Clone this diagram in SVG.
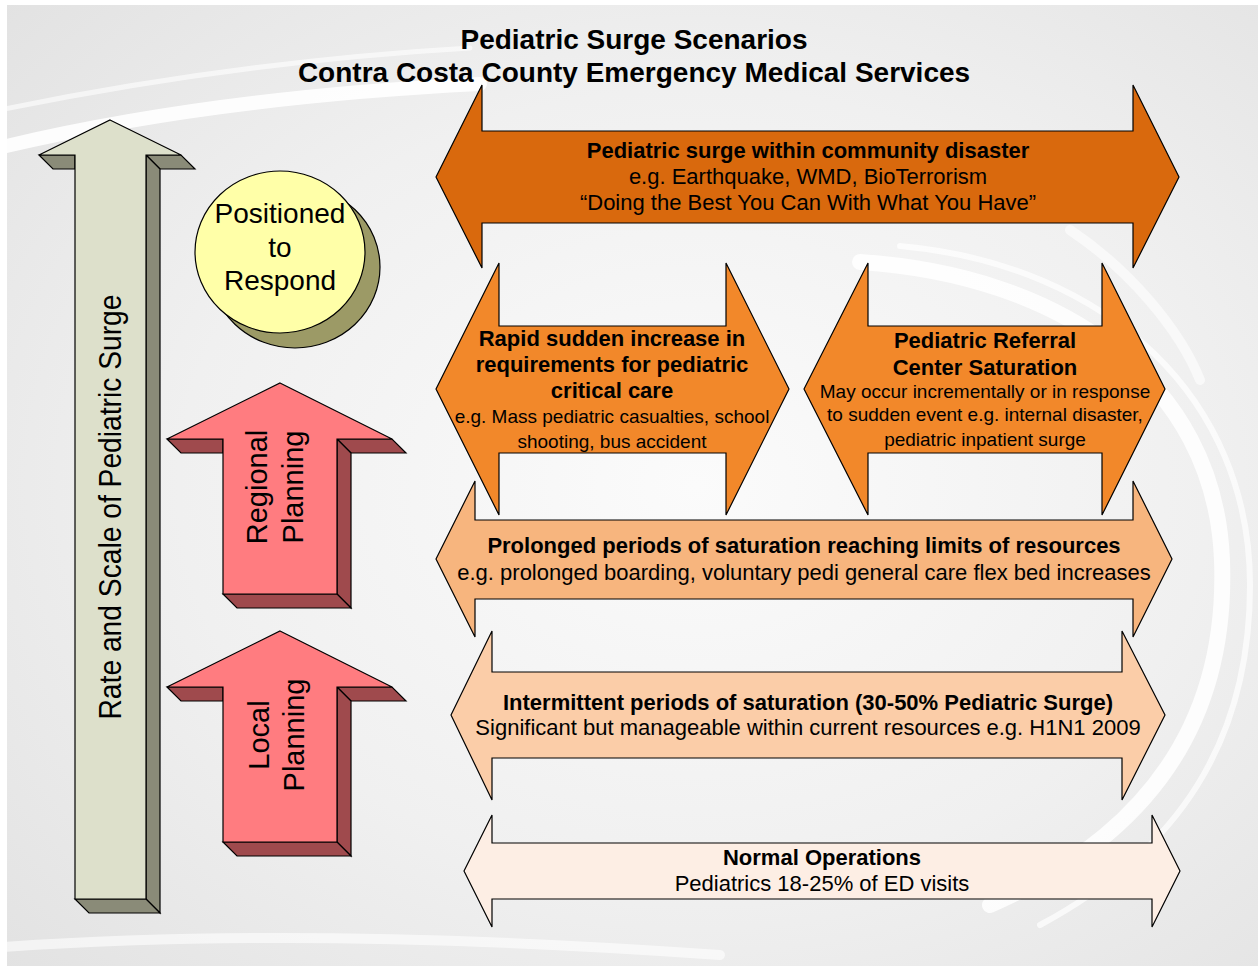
<svg xmlns="http://www.w3.org/2000/svg" width="1258" height="971" viewBox="0 0 1258 971">
<defs>
<radialGradient id="bg" cx="0.55" cy="0.5" r="0.75">
<stop offset="0" stop-color="#fbfbfb"/>
<stop offset="0.55" stop-color="#f0f0f0"/>
<stop offset="1" stop-color="#e2e2e2"/>
</radialGradient>
<clipPath id="slide"><rect x="7" y="5" width="1251" height="961"/></clipPath>
</defs>
<style>
.t{font-family:"Liberation Sans",Arial,sans-serif;fill:#000;text-anchor:middle}
.b{font-weight:bold}
.ol{stroke:#000;stroke-width:1.2;stroke-linejoin:miter}
.sw{fill:none;stroke:#ffffff;stroke-linecap:round}
</style>
<rect x="0" y="0" width="1258" height="971" fill="#ffffff"/>
<rect x="7" y="5" width="1251" height="961" fill="url(#bg)"/>
<g id="background-swooshes" clip-path="url(#slide)">
<path class="sw" d="M -10 150 Q 200 98 480 84" stroke-width="14" opacity="0.9"/>
<path class="sw" d="M -10 112 Q 230 62 470 48" stroke-width="5" opacity="0.6"/>
<path class="sw" d="M 860 262 C 1060 275 1215 380 1222 560 C 1228 720 1150 835 990 905" stroke-width="16" opacity="0.85"/>
<path class="sw" d="M 900 246 C 1110 265 1250 400 1250 585 C 1250 740 1180 850 1040 925" stroke-width="6" opacity="0.7"/>
<path class="sw" d="M 1070 230 C 1130 270 1180 330 1200 380" stroke-width="10" opacity="0.6"/>
<path class="sw" d="M -10 948 Q 300 925 720 955" stroke-width="10" opacity="0.6"/>
</g>
<text class="t b" x="634" y="49" font-size="28">Pediatric Surge Scenarios</text>
<text class="t b" x="634" y="82" font-size="28">Contra Costa County Emergency Medical Services</text>

<g id="scale-arrow">
<polygon class="ol" fill="#8a8b78" points="39,155 53,169 75,169 75,155"/>
<polygon class="ol" fill="#8a8b78" points="146,155 181,155 195,169 160,169"/>
<polygon class="ol" fill="#8a8b78" points="146,155 160,169 160,913 146,899"/>
<polygon class="ol" fill="#8a8b78" points="75,899 146,899 160,913 89,913"/>
<polygon class="ol" fill="#dde0cb" points="110,120 181,155 146,155 146,899 75,899 75,155 39,155"/>
<text class="t" transform="translate(0,507) rotate(-90)" x="0" y="121" font-size="32" textLength="425" lengthAdjust="spacingAndGlyphs">Rate and Scale of Pediatric Surge</text>
</g>

<g id="positioned">
<ellipse class="ol" cx="295" cy="267" rx="85" ry="81" fill="#9c9a66"/>
<ellipse class="ol" cx="280" cy="252" rx="85" ry="81" fill="#ffffa8"/>
<text class="t" x="280" y="223" font-size="28">Positioned</text>
<text class="t" x="280" y="257" font-size="28">to</text>
<text class="t" x="280" y="290" font-size="28">Respond</text>
</g>

<g id="regional-planning">
<polygon class="ol" fill="#9f4a4d" points="167,439 181,453 223,453 223,439"/>
<polygon class="ol" fill="#9f4a4d" points="337,439 392,439 406,453 351,453"/>
<polygon class="ol" fill="#9f4a4d" points="337,439 351,453 351,608 337,594"/>
<polygon class="ol" fill="#9f4a4d" points="223,594 337,594 351,608 237,608"/>
<polygon class="ol" fill="#ff7c80" points="280,383 392,439 337,439 337,594 223,594 223,439 167,439"/>
<text class="t" transform="translate(0,487) rotate(-90)" font-size="29"><tspan x="0" y="267">Regional</tspan><tspan x="0" y="303">Planning</tspan></text>
</g>

<g id="local-planning">
<polygon class="ol" fill="#9f4a4d" points="167,687 181,701 223,701 223,687"/>
<polygon class="ol" fill="#9f4a4d" points="337,687 392,687 406,701 351,701"/>
<polygon class="ol" fill="#9f4a4d" points="337,687 351,701 351,856 337,842"/>
<polygon class="ol" fill="#9f4a4d" points="223,842 337,842 351,856 237,856"/>
<polygon class="ol" fill="#ff7c80" points="280,631 392,687 337,687 337,842 223,842 223,687 167,687"/>
<text class="t" transform="translate(0,735) rotate(-90)" font-size="29"><tspan x="0" y="269">Local</tspan><tspan x="0" y="304">Planning</tspan></text>
</g>

<g id="community-disaster">
<polygon class="ol" fill="#d9690d" points="436,177 482,85 482,131 1133,131 1133,85 1179,177 1133,268 1133,223 482,223 482,268"/>
<text class="t b" x="808" y="158" font-size="22">Pediatric surge within community disaster</text>
<text class="t" x="808" y="184" font-size="22">e.g. Earthquake, WMD, BioTerrorism</text>
<text class="t" x="808" y="210" font-size="22">“Doing the Best You Can With What You Have”</text>
</g>

<g id="rapid-increase">
<polygon class="ol" fill="#f2882a" points="436,389 499,263 499,326 726,326 726,263 789,389 726,515 726,453 499,453 499,515"/>
<text class="t b" x="612" y="346" font-size="22">Rapid sudden increase in</text>
<text class="t b" x="612" y="372" font-size="22">requirements for pediatric</text>
<text class="t b" x="612" y="398" font-size="22">critical care</text>
<text class="t" x="612" y="423" font-size="19">e.g. Mass pediatric casualties, school</text>
<text class="t" x="612" y="448" font-size="19">shooting, bus accident</text>
</g>

<g id="referral-saturation">
<polygon class="ol" fill="#f2882a" points="804,389 868,263 868,326 1102,326 1102,263 1165,389 1102,515 1102,453 868,453 868,515"/>
<text class="t b" x="985" y="348" font-size="22">Pediatric Referral</text>
<text class="t b" x="985" y="375" font-size="22">Center Saturation</text>
<text class="t" x="985" y="398" font-size="19">May occur incrementally or in response</text>
<text class="t" x="985" y="421" font-size="19">to sudden event e.g. internal disaster,</text>
<text class="t" x="985" y="446" font-size="19">pediatric inpatient surge</text>
</g>

<g id="prolonged-saturation">
<polygon class="ol" fill="#f7b57e" points="436,559 475,481 475,520 1133,520 1133,481 1172,559 1133,637 1133,599 475,599 475,637"/>
<text class="t b" x="804" y="553" font-size="22">Prolonged periods of saturation reaching limits of resources</text>
<text class="t" x="804" y="580" font-size="22">e.g. prolonged boarding, voluntary pedi general care flex bed increases</text>
</g>

<g id="intermittent-saturation">
<polygon class="ol" fill="#fbcda8" points="451,715 492,631 492,672 1122,672 1122,631 1165,715 1122,800 1122,758 492,758 492,800"/>
<text class="t b" x="808" y="710" font-size="22">Intermittent periods of saturation (30-50% Pediatric Surge)</text>
<text class="t" x="808" y="735" font-size="22">Significant but manageable within current resources e.g. H1N1 2009</text>
</g>

<g id="normal-operations">
<polygon class="ol" fill="#fdeee4" points="464,871 492,815 492,843 1152,843 1152,815 1180,871 1152,927 1152,899 492,899 492,927"/>
<text class="t b" x="822" y="865" font-size="22">Normal Operations</text>
<text class="t" x="822" y="891" font-size="22">Pediatrics 18-25% of ED visits</text>
</g>
<g id="connectors"/>
</svg>
